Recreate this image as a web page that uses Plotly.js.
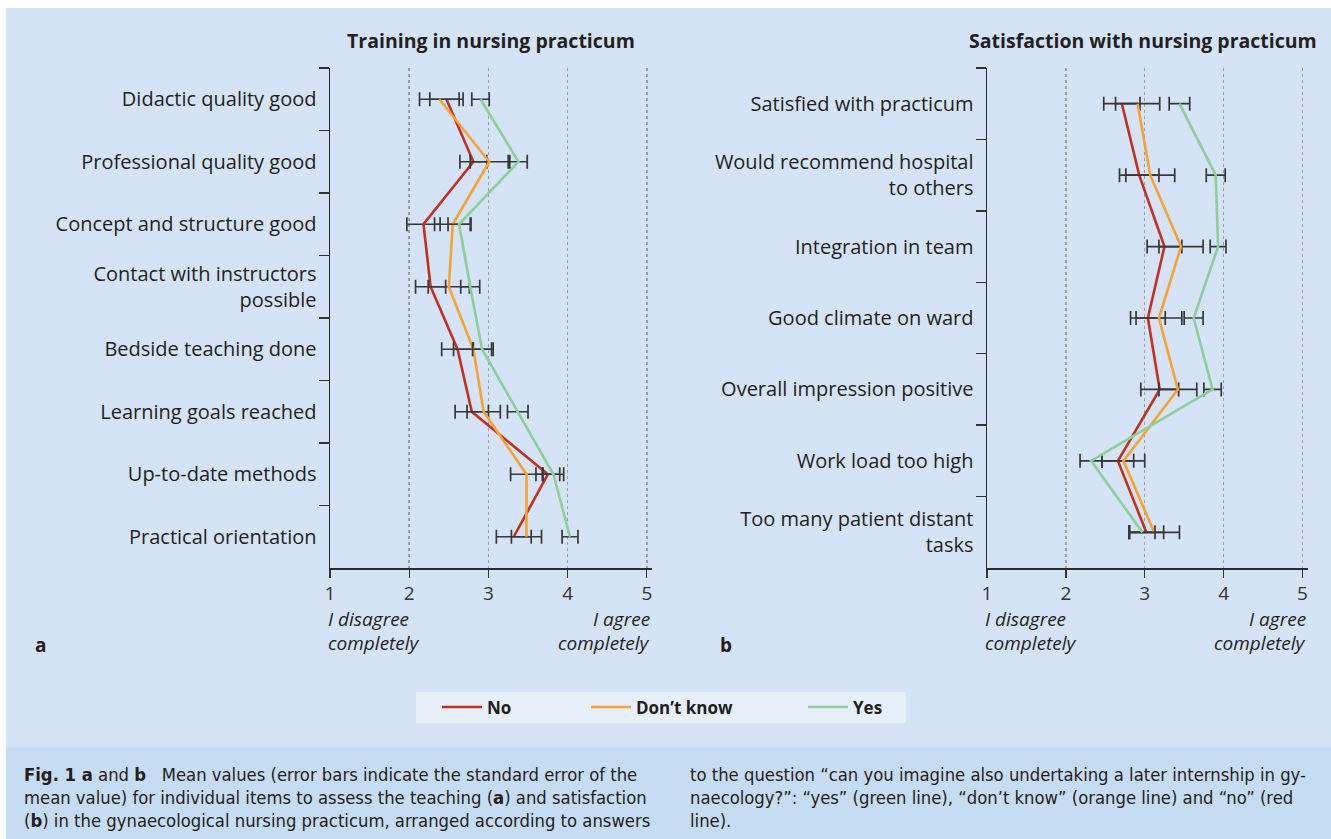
<!DOCTYPE html>
<html>
<head>
<meta charset="utf-8">
<script src="https://cdn.plot.ly/plotly-3.0.1.min.js"></script>
<style>html,body{margin:0;padding:0;background:#fff;}#chart{width:1331px;height:839px;}</style>
</head>
<body>
<div id="chart"></div>
<script>
// ---- Data (panel a: Training in nursing practicum) ----
const catsA = ["Didactic quality good", "Professional quality good", "Concept and structure good",
  "Contact with instructors<br>possible", "Bedside teaching done", "Learning goals reached",
  "Up-to-date methods", "Practical orientation"];
const noA     = [2.47, 2.81, 2.18, 2.27, 2.61, 2.79, 3.75, 3.32];
const noAErr  = [0.21, 0.17, 0.21, 0.19, 0.20, 0.21, 0.15, 0.22];
const dkA     = [2.38, 3.01, 2.55, 2.50, 2.81, 2.94, 3.48, 3.48];
const dkAErr  = [0.25, 0.24, 0.23, 0.26, 0.25, 0.21, 0.20, 0.19];
const yesA    = [2.90, 3.38, 2.63, 2.77, 2.92, 3.37, 3.82, 4.03];
const yesAErr = [0.11, 0.11, 0.14, 0.12, 0.12, 0.13, 0.13, 0.10];

// ---- Data (panel b: Satisfaction with nursing practicum) ----
const catsB = ["Satisfied with practicum", "Would recommend hospital<br>to others", "Integration in team",
  "Good climate on ward", "Overall impression positive", "Work load too high",
  "Too many patient distant<br>tasks"];
const noB     = [2.71, 2.93, 3.25, 3.04, 3.19, 2.66, 3.02];
const noBErr  = [0.23, 0.25, 0.22, 0.22, 0.24, 0.20, 0.22];
const dkB     = [2.91, 3.07, 3.46, 3.18, 3.42, 2.73, 3.12];
const dkBErr  = [0.28, 0.31, 0.28, 0.29, 0.24, 0.27, 0.32];
const yesB    = [3.44, 3.90, 3.93, 3.62, 3.86, 2.32, 2.97];
const yesBErr = [0.13, 0.12, 0.10, 0.12, 0.11, 0.14, 0.16];

const seriesNames = ["No", "Don’t know", "Yes"];
const xTickVals = [1, 2, 3, 4, 5];
const xTickText = ["1", "2", "3", "4", "5"];

// ---- Styling ----
const W = 1331, H = 839;
const px = v => v / W;
const py = v => 1 - v / H;
const colors = ["#c3301d", "#f8a22f", "#8dcf98"];
const FONT = "'Open Sans', 'Noto Sans', sans-serif";
const CAP = "'Liberation Sans Narrow', 'DejaVu Sans Condensed', 'Roboto', sans-serif";
const dark = "#231f20";
const legendIds = ["legend", "legend2", "legend3"];
const legendX = [437, 586, 803];

function mk(x, cats, err, i, xa, ya, showLeg) {
  return {
    type: "scatter", mode: "lines", x: x, y: cats, name: seriesNames[i],
    xaxis: xa, yaxis: ya, showlegend: showLeg, legend: legendIds[i],
    line: {color: colors[i], width: 2.6},
    error_x: {type: "data", array: err, visible: true, color: "#383838", thickness: 1.7, width: 7},
    hoverinfo: "x+name"
  };
}

const data = [
  mk(noA, catsA, noAErr, 0, "x", "y", true),
  mk(dkA, catsA, dkAErr, 1, "x", "y", true),
  mk(yesA, catsA, yesAErr, 2, "x", "y", true),
  mk(noB, catsB, noBErr, 0, "x2", "y2", false),
  mk(dkB, catsB, dkBErr, 1, "x2", "y2", false),
  mk(yesB, catsB, yesBErr, 2, "x2", "y2", false)
];

function xax(d0, d1, anchor, rmax) {
  return {
    domain: [px(d0), px(d1)], anchor: anchor, range: [1, rmax],
    tickvals: xTickVals, ticktext: xTickText, ticks: "outside", ticklen: 8, tickwidth: 1.3,
    tickcolor: "#333", showline: true, linecolor: "#2b2b2b", linewidth: 1.5,
    showgrid: true, gridcolor: "#9d9d9d", griddash: "dot", gridwidth: 1.5,
    zeroline: false, tickfont: {family: FONT, size: 19, color: "#333"}, fixedrange: true
  };
}
function yax(cats, anchor) {
  return {
    domain: [py(568), py(68)], anchor: anchor, type: "category",
    categoryorder: "array", categoryarray: cats,
    range: [cats.length - 0.5, -0.5], tickson: "boundaries",
    ticks: "outside", ticklen: 10, tickwidth: 1.3, tickcolor: "#333", ticklabelstandoff: 8,
    showline: true, linecolor: "#2b2b2b", linewidth: 1.5, showgrid: false, zeroline: false,
    tickfont: {family: FONT, size: 20, color: dark}, fixedrange: true
  };
}

const ann = [];
function txt(text, x, y, opts) {
  ann.push(Object.assign({text: text, xref: "paper", yref: "paper", x: px(x), y: py(y),
    showarrow: false, xanchor: "left", yanchor: "middle",
    font: {family: FONT, size: 17, color: dark}}, opts || {}));
}
// panel titles
const tf = {family: FONT, size: 19.5, color: dark};
txt("<b>Training in nursing practicum</b>", 491, 41, {xanchor: "center", font: tf});
txt("<b>Satisfaction with nursing practicum</b>", 1142.5, 41, {xanchor: "center", font: tf});
// scale end labels
const itf = {family: FONT, size: 19, color: dark, style: "italic"};
[[326, 652], [983, 1308]].forEach(function (p) {
  txt("I disagree", p[0], 619, {font: itf});
  txt("completely", p[0], 643, {font: itf});
  txt("I agree", p[1], 619, {xanchor: "right", font: itf});
  txt("completely", p[1], 643, {xanchor: "right", font: itf});
});
// panel letters
txt("<b>a</b>", 33, 645, {font: {family: FONT, size: 19, color: dark}});
txt("<b>b</b>", 718, 645, {font: {family: FONT, size: 19, color: dark}});
// caption
const capf = {family: CAP, size: 18.3, color: dark};
const capL = ["<b>Fig. 1 a</b> and <b>b</b>   Mean values (error bars indicate the standard error of the",
  "mean value) for individual items to assess the teaching (<b>a</b>) and satisfaction",
  "(<b>b</b>) in the gynaecological nursing practicum, arranged according to answers"];
const capR = ["to the question “can you imagine also undertaking a later internship in gy-",
  "naecology?”: “yes” (green line), “don’t know” (orange line) and “no” (red",
  "line)."];
capL.forEach(function (t, i) { txt(t, 22, 774 + i * 23, {font: capf}); });
capR.forEach(function (t, i) { txt(t, 688, 774 + i * 23, {font: capf}); });

function leg(i) {
  return {
    orientation: "h", x: px(legendX[i]), y: py(707.5), xanchor: "left", yanchor: "middle",
    bgcolor: "rgba(0,0,0,0)", borderwidth: 0, itemwidth: 40,
    font: {family: FONT, size: 17, color: dark, weight: "bold"},
    itemclick: false, itemdoubleclick: false
  };
}

const layout = {
  width: W, height: H, autosize: false,
  margin: {l: 0, r: 0, t: 0, b: 0, pad: 0},
  paper_bgcolor: "#ffffff", plot_bgcolor: "#ffffff",
  xaxis: xax(330, 652, "y", 5.065),
  yaxis: yax(catsA, "x"),
  xaxis2: xax(987, 1308, "y2", 5.07),
  yaxis2: yax(catsB, "x2"),
  showlegend: true,
  legend: leg(0), legend2: leg(1), legend3: leg(2),
  shapes: [
    {type: "rect", xref: "paper", yref: "paper", x0: px(6), x1: 1, y0: py(747), y1: py(8),
      fillcolor: "#d4e3f5", line: {width: 0}, layer: "below"},
    {type: "rect", xref: "paper", yref: "paper", x0: px(6), x1: 1, y0: 0, y1: py(747),
      fillcolor: "#c6dcf2", line: {width: 0}, layer: "below"},
    {type: "rect", xref: "paper", yref: "paper", x0: px(416), x1: px(906), y0: py(723), y1: py(692),
      fillcolor: "#e7eff9", line: {width: 0}, layer: "below"}
  ],
  annotations: ann
};

Plotly.newPlot("chart", data, layout, {displayModeBar: false, staticPlot: true});
</script>
</body>
</html>
